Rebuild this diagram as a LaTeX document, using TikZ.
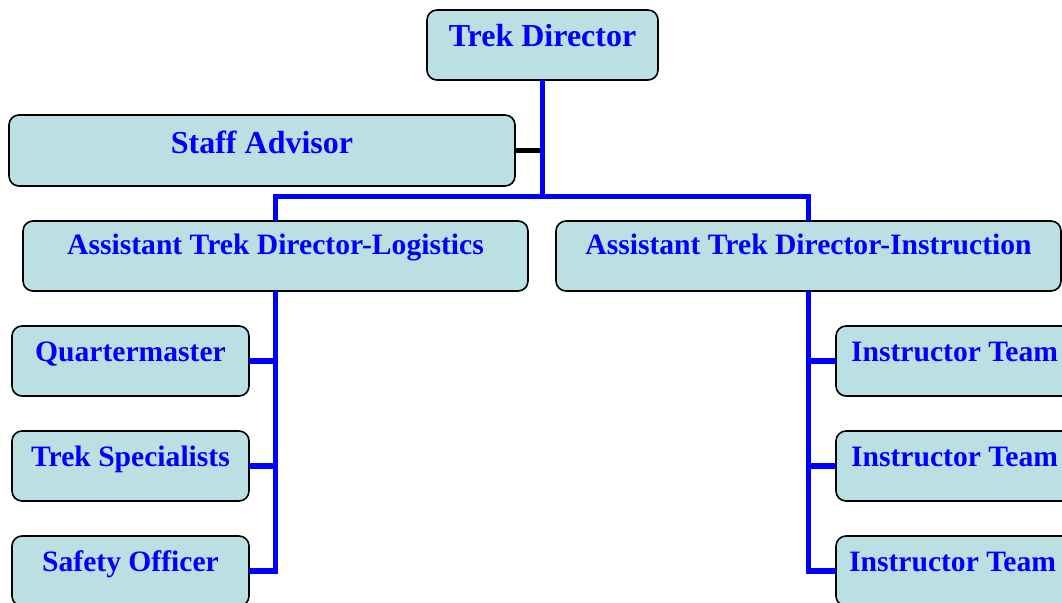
\documentclass[tikz,border=0pt]{standalone}
\usepackage{fontspec}
\setmainfont{Liberation Serif}
\definecolor{boxfill}{HTML}{BBE0E3}
\definecolor{textblue}{HTML}{0000FF}
\definecolor{lineblue}{HTML}{0000FF}
\tikzset{
  orgbox/.style={draw=black, line width=1.6pt, fill=boxfill, rounded corners=10pt,
    inner sep=0pt, outer sep=0pt, align=center, text=textblue, anchor=base},
  bigtext/.style={font=\fontsize{32}{36}\selectfont\bfseries},
  midtext/.style={font=\fontsize{29.6}{33}\selectfont\bfseries},
  bluelink/.style={draw=lineblue, line width=5.5pt},
  blacklink/.style={draw=black, line width=4.5pt}
}
\begin{document}
\begin{tikzpicture}[x=1pt,y=-1pt]
\useasboundingbox (0,0) rectangle (1062,602);
\clip (0,0) rectangle (1062,602);
% boxes
\node[orgbox, bigtext, minimum width=231pt, text height=37pt, text depth=33pt] (td) at (542.5,47) {Trek Director};
\node[orgbox, bigtext, minimum width=506pt, text height=38pt, text depth=33pt] (sa) at (262,153) {Staff Advisor};
\node[orgbox, midtext, minimum width=505pt, text height=33pt, text depth=37pt] (atdl) at (275.5,254) {Assistant Trek Director-Logistics};
\node[orgbox, midtext, minimum width=505pt, text height=33pt, text depth=37pt] (atdi) at (808.5,254) {Assistant Trek Director-Instruction};
\node[orgbox, midtext, minimum width=237pt, text height=35pt, text depth=35pt] (qm) at (130.5,361) {Quartermaster};
\node[orgbox, midtext, minimum width=237pt, text height=35pt, text depth=35pt] (ts) at (130.5,466) {Trek Specialists};
\node[orgbox, midtext, minimum width=237pt, text height=35pt, text depth=35pt] (so) at (130.5,571) {Safety Officer};
\node[orgbox, midtext, minimum width=237pt, text height=35pt, text depth=35pt] (ita) at (954.5,361) {Instructor Team};
\node[orgbox, midtext, minimum width=237pt, text height=35pt, text depth=35pt] (itb) at (954.5,466) {Instructor Team};
\node[orgbox, midtext, minimum width=237pt, text height=35pt, text depth=35pt] (itc) at (954.5,571) {Instructor Team\hspace*{4pt}};
% connectors
\coordinate (bar) at (542.5,196.5);
\draw[blacklink] (sa.east) -- (sa.east -| td.south);
\draw[bluelink] (td.south) -- (bar);
\draw[bluelink] (atdl.north) |- (bar) -| (atdi.north);
\draw[bluelink] (atdl.south) |- (so.base east);
\draw[bluelink] (qm.base east) -- (qm.base east -| atdl.south);
\draw[bluelink] (ts.base east) -- (ts.base east -| atdl.south);
\draw[bluelink] (atdi.south) |- (itc.base west);
\draw[bluelink] (ita.base west) -- (ita.base west -| atdi.south);
\draw[bluelink] (itb.base west) -- (itb.base west -| atdi.south);
\end{tikzpicture}
\end{document}
